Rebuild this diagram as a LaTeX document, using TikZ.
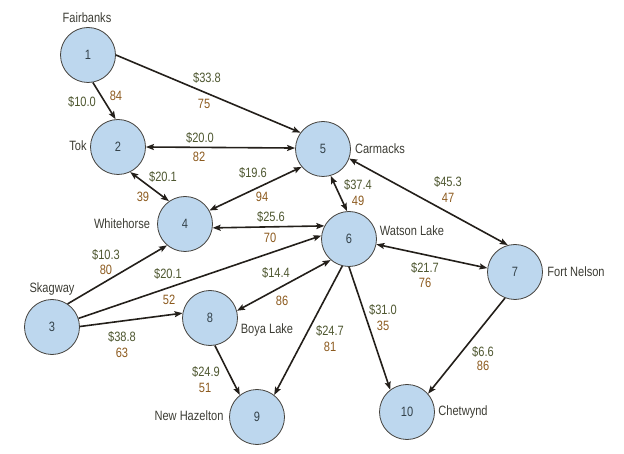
\documentclass[tikz,border=0pt]{standalone}
\usepackage{fontspec}
\setmainfont{Liberation Sans}[FakeStretch=0.82]
\usetikzlibrary{arrows.meta}
\definecolor{nodefill}{HTML}{BDD7EE}
\definecolor{costcol}{HTML}{4E5730}
\definecolor{distcol}{HTML}{8C5A1E}
\definecolor{namecol}{HTML}{3C3C34}
\definecolor{numcol}{HTML}{34424A}
\definecolor{edgecol}{HTML}{231F1A}
\begin{document}
\begin{tikzpicture}[x=1pt,y=-1pt,
  city/.style={circle, draw=edgecol!85, fill=nodefill, minimum size=55pt, inner sep=0pt, line width=0.8pt, text=numcol, font=\fontsize{13.5}{15}\selectfont},
  cname/.style={text=namecol, inner sep=0pt, font=\fontsize{13.5}{15}\selectfont},
  cost/.style={text=costcol, inner sep=0pt, font=\fontsize{13.5}{15}\selectfont},
  dist/.style={text=distcol, inner sep=0pt, font=\fontsize{13.5}{15}\selectfont},
  edge/.style={line width=1.6pt, draw=edgecol},
  tip/.tip={Stealth[length=8pt,width=6pt,inset=1.5pt]},
  one/.style={edge, -tip},
  both/.style={edge, tip-tip}
]
\useasboundingbox (0,0) rectangle (624,454);
% nodes
\node[city] (n1) at (88,55) {1};
\node[city] (n2) at (118,147) {2};
\node[city] (n3) at (52,327) {3};
\node[city] (n4) at (185,224) {4};
\node[city] (n5) at (323,149) {5};
\node[city] (n6) at (349,239) {6};
\node[city] (n7) at (515,272) {7};
\node[city] (n8) at (210,318) {8};
\node[city] (n9) at (257,417) {9};
\node[city] (n10) at (407,412) {10};
% names
\node[cname] (t1) at (87,18) {Fairbanks};
\node[cname] (t2) at (78,146) {Tok};
\node[cname] (t4) at (122,224) {Whitehorse};
\node[cname] (t3) at (52,289) {Skagway};
\node[cname] (t5) at (380,149) {Carmacks};
\node[cname] (t6) at (412,231) {Watson Lake};
\node[cname] (t7) at (576,272) {Fort Nelson};
\node[cname] (t8) at (267,330) {Boya Lake};
\node[cname] (t9) at (189,416) {New Hazelton};
\node[cname] (t10) at (463,412) {Chetwynd};
% edges
\draw[one] (n1.-80) -- (n2.95);
\draw[one] (n1.0) -- (n5.144);
\draw[both] (n2.0) -- (n5.178);
\draw[both] (n2.-64) -- (n4.125);
\draw[both] (n4.29) -- (n5.-140);
\draw[both] (n4.-8) -- (n6.152);
\draw[one] (n3.56) -- (n4.-130);
\draw[one] (n3.18) -- (n6.173);
\draw[one] (n3.1) -- (n8.170);
\draw[both] (n6.-131) -- (n8.15);
\draw[one] (n6.-104) -- (n9.52);
\draw[one] (n6.-90) -- (n10.127);
\draw[both] (n5.-74) -- (n6.94);
\draw[both] (n5.-20) -- (n7.105);
\draw[both] (n6.-11) -- (n7.172);
\draw[one] (n7.-111) -- (n10.41);
\draw[one] (n8.-80) -- (n9.128);
% labels
\node[cost] (c12) at (82,102) {\$10.0};
\node[dist] (d12) at (116,96) {84};
\node[cost] (c15) at (207,78) {\$33.8};
\node[dist] (d15) at (204,104) {75};
\node[cost] (c25) at (200,138) {\$20.0};
\node[dist] (d25) at (199,157) {82};
\node[cost] (c24) at (163,177) {\$20.1};
\node[dist] (d24) at (143,197) {39};
\node[cost] (c45) at (253,173) {\$19.6};
\node[dist] (d45) at (262,197) {94};
\node[cost] (c46) at (271,217) {\$25.6};
\node[dist] (d46) at (270,238) {70};
\node[cost] (c34) at (106,255) {\$10.3};
\node[dist] (d34) at (106,270) {80};
\node[cost] (c36) at (168,274) {\$20.1};
\node[dist] (d36) at (169,300) {52};
\node[cost] (c38) at (122,337) {\$38.8};
\node[dist] (d38) at (122,353) {63};
\node[cost] (c68) at (276,273) {\$14.4};
\node[dist] (d68) at (282,301) {86};
\node[cost] (c69) at (330,331) {\$24.7};
\node[dist] (d69) at (330,347) {81};
\node[cost] (c610) at (383,310) {\$31.0};
\node[dist] (d610) at (383,326) {35};
\node[cost] (c56) at (358,185) {\$37.4};
\node[dist] (d56) at (358,201) {49};
\node[cost] (c57) at (448,182) {\$45.3};
\node[dist] (d57) at (448,198) {47};
\node[cost] (c67) at (425,268) {\$21.7};
\node[dist] (d67) at (425,283) {76};
\node[cost] (c710) at (483,352) {\$6.6};
\node[dist] (d710) at (483,366) {86};
\node[cost] (c89) at (206,372) {\$24.9};
\node[dist] (d89) at (205,388) {51};
\end{tikzpicture}
\end{document}
